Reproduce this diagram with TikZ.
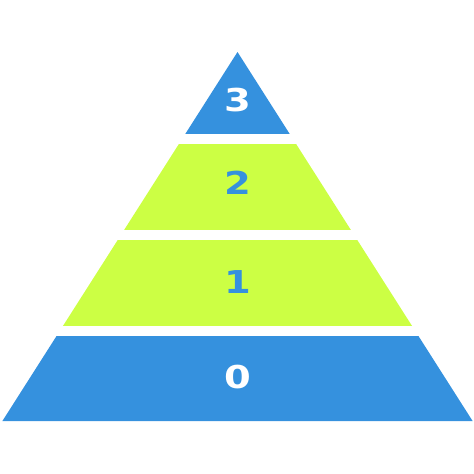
\documentclass[tikz,border=0pt]{standalone}
\usepackage{fontspec}
\setsansfont{DejaVu Sans}
\usepackage{tikz}
\usetikzlibrary{positioning}
\definecolor{tierblue}{RGB}{53,145,222}
\definecolor{tiergreen}{RGB}{204,255,68}
\newcommand{\tierdigit}[1]{\scalebox{1.22}[1]{#1}}
\tikzset{%
	tier label/.style={
		inner sep=0pt,
		font=\sffamily\bfseries\fontsize{31.5}{32}\selectfont
	},
	on blue/.style={tier label, text=white},
	on green/.style={tier label, text=tierblue},
}

\begin{document}
\begin{tikzpicture}[x=1pt, y=-1pt]
	\useasboundingbox (0,0) rectangle (474,474);
	\coordinate (apex) at (237.5,52);
	\coordinate (baseL) at (2.4,421);
	\coordinate (baseR) at (472.6,421);
	\begin{scope}
		\clip (apex) -- (baseL) -- (baseR) -- cycle;
		\fill[tierblue] (0,40) rectangle (474,134);
		\fill[tiergreen] (0,144) rectangle (474,230);
		\fill[tiergreen] (0,240) rectangle (474,326);
		\fill[tierblue] (0,336) rectangle (474,430);
	\end{scope}
	\node[on blue] (t3) at (238,100) {\tierdigit{3}};
	\node[on green] (t2) at (238,182.5) {\tierdigit{2}};
	\node[on green] (t1) at (238,282) {\tierdigit{1}};
	\node[on blue] (t0) at (238,377.5) {\tierdigit{0}};
\end{tikzpicture}
\end{document}
